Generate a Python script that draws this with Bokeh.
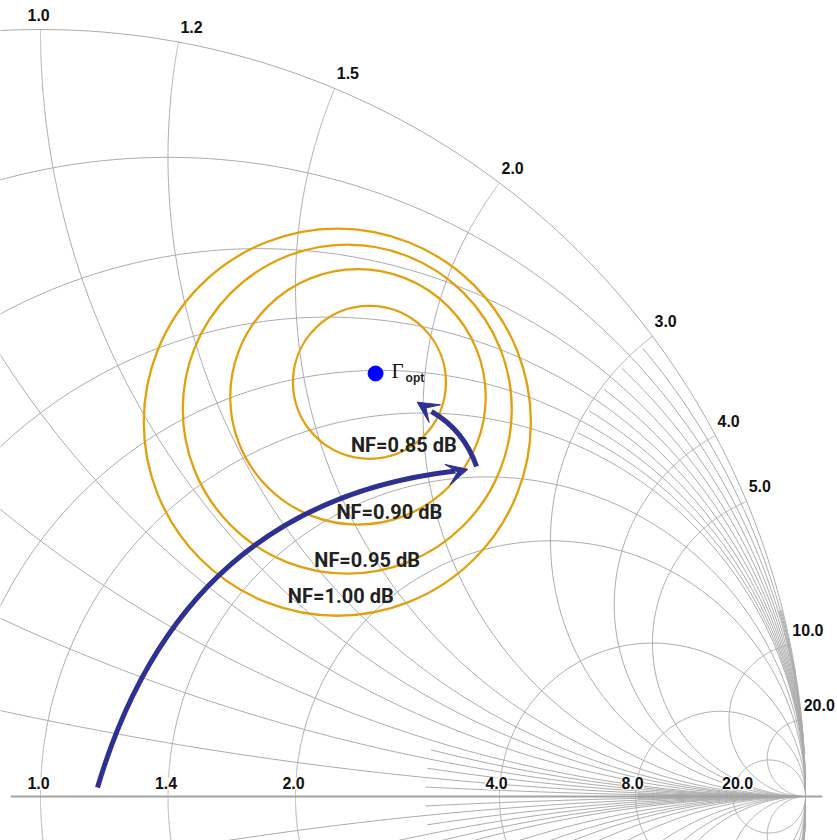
import numpy as np
from bokeh.plotting import figure
from bokeh.models import Range1d, Arrow, VeeHead, ColumnDataSource
from bokeh.core.properties import value
from bokeh.embed import file_html
from bokeh.resources import INLINE

# ---------------- data ----------------
# Smith chart grid: main resistance circles and reactance arcs (drawn in full)
r_circles = [0.0, 0.2, 0.4, 0.6, 0.8, 1.0, 1.4, 2.0, 4.0, 8.0, 20.0]
x_arcs = [0.2, 0.4, 0.6, 0.8, 1.0, 1.2, 1.5, 2.0, 3.0, 4.0, 5.0, 10.0, 20.0]
# fine resistance circles, drawn only where |x| >= the given limit
fine_r_circles = [0.1, 0.3, 0.5, 0.7, 0.9]
fine_r_min_x = 3.0
finer_r_circles = [0.05, 0.15]
finer_r_min_x = 8.0
# fine reactance arcs, drawn only where r >= the given limit
fine_x_arcs = [0.1, 0.3, 0.5]
fine_x_min_r = 3.0
finer_x_arcs = [0.05, 0.15]
finer_x_min_r = 8.0
# extent of the real axis line
axis_extent = [-0.039, 1.022]

# tick labels on the real axis (resistance) and on the rim (reactance)
r_tick_values = [1.0, 1.4, 2.0, 4.0, 8.0, 20.0]
r_tick_labels = ["1.0", "1.4", "2.0", "4.0", "8.0", "20.0"]
r_tick_dx = [-2, -2, -2, -3, -3, 5]
x_tick_values = [1.0, 1.2, 1.5, 2.0, 3.0, 4.0, 5.0, 10.0, 20.0]
x_tick_labels = ["1.0", "1.2", "1.5", "2.0", "3.0", "4.0", "5.0", "10.0", "20.0"]
x_tick_dx = [-13, 2, 2, 2, 2, 2, 2, 2, 2]

# optimum source reflection coefficient
gamma_opt = (0.438, 0.5515)

# noise figure circles (centre and radius in reflection-coefficient plane)
nf_labels = ["NF=0.85 dB", "NF=0.90 dB", "NF=0.95 dB", "NF=1.00 dB"]
nf_center_x = [0.430, 0.415, 0.401, 0.388]
nf_center_y = [0.540, 0.521, 0.505, 0.488]
nf_radius = [0.100, 0.167, 0.215, 0.253]
nf_label_x = [0.475, 0.456, 0.427, 0.3925]
nf_label_y = [0.451, 0.363, 0.300, 0.253]

# arrows (quadratic curves: start, control, end; then arrow-head start/tip)
arrow_long = dict(x0=0.0745, y0=0.0117, cx=0.185, cy=0.3833, x1=0.5425, y1=0.4244,
                  hx=0.5382, hy=0.4213, tx=0.5586, ty=0.4265)
arrow_short = dict(x0=0.570, y0=0.4302, cx=0.5536, cy=0.4778, x1=0.5111, y1=0.5020,
                   hx=0.5111, hy=0.5020, tx=0.4924, ty=0.5141)

# ---------------- helpers ----------------
def gamma(z):
    return (z - 1) / (z + 1)

t = np.concatenate([[0.0], np.geomspace(1e-3, 1e4, 900)])
ts = np.concatenate([-t[::-1], t[1:]])

grid_xs, grid_ys = [], []
for r in r_circles:
    g = gamma(r + 1j * ts)
    grid_xs.append(g.real); grid_ys.append(g.imag)
for circles, xmin in ((fine_r_circles, fine_r_min_x), (finer_r_circles, finer_r_min_x)):
    xs = t[t >= xmin]
    for r in circles:
        for s in (1, -1):
            g = gamma(r + 1j * s * xs)
            grid_xs.append(g.real); grid_ys.append(g.imag)
for xv in x_arcs:
    for s in (1, -1):
        g = gamma(t + 1j * s * xv)
        grid_xs.append(g.real); grid_ys.append(g.imag)
for arcs, rmin in ((fine_x_arcs, fine_x_min_r), (finer_x_arcs, finer_x_min_r)):
    rs = t[t >= rmin]
    for xv in arcs:
        for s in (1, -1):
            g = gamma(rs + 1j * s * xv)
            grid_xs.append(g.real); grid_ys.append(g.imag)

GRID = "#ababab"
BLUE = "#2e3192"
ORANGE = "#e3a00c"
DY = -6  # text baseline correction (px)

p = figure(width=837, height=840, output_backend="svg", toolbar_location=None,
           x_range=Range1d(-0.05229, 1.04183), y_range=Range1d(-0.05737, 1.03781),
           min_border=0)
p.axis.visible = False
p.grid.visible = False
p.outline_line_color = None
p.background_fill_color = "white"

p.multi_line(grid_xs, grid_ys, line_color=GRID, line_width=1)
p.segment(x0=[axis_extent[0]], y0=[0], x1=[axis_extent[1]], y1=[0],
          line_color="#a3a3a3", line_width=2)

# noise circles
p.circle(x=nf_center_x, y=nf_center_y, radius=nf_radius, fill_color=None,
         line_color=ORANGE, line_width=2.3)

# gamma opt
p.scatter(x=[gamma_opt[0]], y=[gamma_opt[1]], size=15, color="#0000ff")
p.text(x=[gamma_opt[0]], y=[gamma_opt[1]], text=["Γ"], x_offset=16, y_offset=4 + DY,
       text_font=value("Liberation Serif"), text_font_size="21px",
       text_baseline="alphabetic", text_color="#111111")
p.text(x=[gamma_opt[0]], y=[gamma_opt[1]], text=["opt"], x_offset=30, y_offset=11 + DY,
       text_font=value("Liberation Sans"), text_font_style="bold", text_font_size="12px",
       text_baseline="alphabetic", text_color="#222222")

# NF labels
p.text(x=nf_label_x, y=nf_label_y, text=nf_labels, text_align="center",
       text_baseline="alphabetic", y_offset=DY, text_font=value("Roboto"),
       text_font_style="bold", text_font_size="20px", text_color="#222222")

# arrows
for a in (arrow_long, arrow_short):
    p.quadratic(x0=[a["x0"]], y0=[a["y0"]], cx=[a["cx"]], cy=[a["cy"]],
                x1=[a["x1"]], y1=[a["y1"]], line_color=BLUE, line_width=5)
    p.add_layout(Arrow(end=VeeHead(size=21, fill_color=BLUE, line_color=BLUE),
                       x_start=a["hx"], y_start=a["hy"], x_end=a["tx"], y_end=a["ty"],
                       line_alpha=0, line_width=1))

# tick labels on the real axis
rg = gamma(np.array(r_tick_values, dtype=complex))
src_r = ColumnDataSource(dict(x=rg.real, y=rg.imag, text=r_tick_labels, dx=r_tick_dx))
p.text(x="x", y="y", text="text", source=src_r, text_align="center",
       text_baseline="alphabetic", x_offset="dx", y_offset=-7 + DY,
       text_font=value("Liberation Sans"), text_font_style="bold",
       text_font_size="16px", text_color="#111111",
       background_fill_color="white")

# tick labels on the rim
xg = gamma(1j * np.array(x_tick_values))
src_x = ColumnDataSource(dict(x=xg.real, y=xg.imag, text=x_tick_labels, dx=x_tick_dx))
p.text(x="x", y="y", text="text", source=src_x, text_align="left",
       text_baseline="alphabetic", x_offset="dx", y_offset=-9 + DY,
       text_font=value("Liberation Sans"), text_font_style="bold",
       text_font_size="16px", text_color="#111111")

open("out.html", "w").write(file_html(p, INLINE))
